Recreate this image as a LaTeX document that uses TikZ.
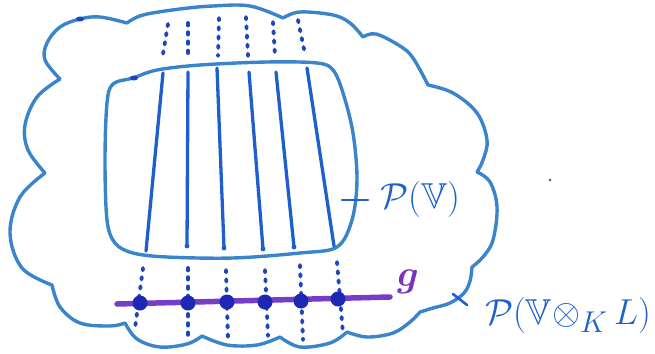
\documentclass[tikz,border=0pt]{standalone}
\usepackage{amsmath}
\usepackage{amssymb}
\definecolor{cloudblue}{RGB}{58,132,204}
\definecolor{penblue}{RGB}{30,95,205}
\definecolor{dotblue}{RGB}{28,70,190}
\definecolor{ptblue}{RGB}{30,40,180}
\definecolor{gpurple}{RGB}{118,62,200}
\definecolor{labpurple}{RGB}{125,50,190}
\tikzset{
  cloudline/.style={draw=cloudblue, line width=3.4pt, line cap=round, line join=round},
  fiber/.style={draw=penblue, line width=3.3pt, line cap=round},
  dotcol/.style={draw=dotblue, line width=3.8pt, line cap=round, dash pattern=on 2.4pt off 6.8pt},
  gline/.style={draw=gpurple, line width=5.5pt, line cap=round},
  gdot/.style={circle, fill=ptblue, minimum size=15pt, inner sep=0pt},
  label/.style={text=penblue, font=\Huge, inner sep=0pt, scale=1.45, transform shape},
  tick/.style={draw=penblue, line width=2.6pt, line cap=round}
}
\begin{document}
\begin{tikzpicture}[x=1pt, y=-1pt]
\useasboundingbox (0,0) rectangle (655,353);

% outer cloud, one bump at a time
\draw[cloudline]
  plot[smooth,tension=0.6] coordinates {(60,79) (45,60) (47,43) (60,27) (80,19) (100,17) (127,23)}
  plot[smooth,tension=0.6] coordinates {(127,23) (143,15) (180,9) (213,6) (250,6) (283,18)}
  plot[smooth,tension=0.6] coordinates {(283,18) (300,12) (333,15) (350,23) (363,37)}
  plot[smooth,tension=0.6] coordinates {(363,37) (376,34) (400,46) (413,58) (428,85)}
  plot[smooth,tension=0.6] coordinates {(428,85) (453,93) (477,113) (487,140) (483,160) (477,172)}
  plot[smooth,tension=0.6] coordinates {(477,172) (490,182) (497,207) (493,240) (483,257) (472,267)}
  plot[smooth,tension=0.6] coordinates {(472,267) (470,281) (464,293) (450,303) (433,308) (420,312)}
  plot[smooth,tension=0.6] coordinates {(420,312) (410,322) (393,333) (367,337) (347,332)}
  plot[smooth,tension=0.6] coordinates {(347,332) (330,343) (300,347) (280,337)}
  plot[smooth,tension=0.6] coordinates {(280,337) (257,345) (227,345) (202,336)}
  plot[smooth,tension=0.6] coordinates {(202,336) (187,344) (160,347) (137,339) (125,323)}
  plot[smooth,tension=0.6] coordinates {(125,323) (110,326) (80,323) (60,307) (52,285)}
  plot[smooth,tension=0.6] coordinates {(52,285) (22,268) (10,233) (20,197) (45,173)}
  plot[smooth,tension=0.6] coordinates {(45,173) (28,150) (25,125) (37,97) (60,79)};
\fill[dotblue] (80,19) ellipse (4pt and 2.5pt);

% inner rounded region P(V)
\draw[cloudline] plot[smooth cycle,tension=0.55] coordinates {
  (133,78) (157,70) (200,65) (267,62) (317,63) (333,70) (343,93) (353,133)
  (357,180) (352,220) (337,247) (300,253) (233,258) (167,257) (133,253)
  (115,243) (107,220) (105,160) (107,103) (113,84)};
\fill[dotblue] (134,78) ellipse (4pt and 2.5pt);

% fibres inside P(V)
\foreach \i/\xt/\yt/\xb/\yb in {1/163/73/146/251, 2/188/72/187/246, 3/217/68/224/248,
                                4/249/72/263/249, 5/276/72/294/247, 6/307/68/334/246} {
  \coordinate (u\i) at (\xt,\yt);
  \coordinate (l\i) at (\xb,\yb);
  \draw[fiber] (u\i) -- (l\i);
}
\foreach \i in {2,...,5} \fill[penblue] (l\i) circle (2.4pt);

% dotted continuations above
\foreach \i/\xt/\yt/\xb/\yb in {1/168/24/162/60, 2/188/23/188/58, 3/219/18/218/56,
                                4/246/17/248/56, 5/273/22/275/56, 6/298/20/305/54} {
  \coordinate (a\i) at (\xt,\yt);
  \coordinate (c\i) at (\xb,\yb);
  \draw[dotcol] (a\i) -- (c\i);
}

% the line g
\coordinate (gl) at (117,304);
\coordinate (gr) at (390,297);
\draw[gline] (gl) -- (gr);

% dotted continuations below, through the points of g
\foreach \i/\xt/\yt/\xb/\yb in {1/143/268/135/328, 2/188/268/188/337, 3/226/270/228/340,
                                4/265/270/268/336, 5/300/265/303/340, 6/337/262/343/334} {
  \coordinate (s\i) at (\xt,\yt);
  \coordinate (e\i) at (\xb,\yb);
  \draw[dotcol] (s\i) -- (e\i);
}
\foreach \i/\x/\y in {1/140/303, 2/188/303, 3/227/302, 4/265/302, 5/301/301, 6/338/299}
  \node[gdot] (p\i) at (\x,\y) {};

% labels
\node[text=labpurple, font=\Huge, inner sep=0pt, scale=1.5, transform shape] (g) at (408,282) {$\boldsymbol{g}$};

\node[label] (pv) at (420,199) {$\mathcal{P}(\mathbb{V})$};
\coordinate (tv1) at (342,200);
\coordinate (tv2) at (368,200);
\draw[tick] (tv1) -- (tv2);

\node[label] (pvl) at (568,315) {$\mathcal{P}(\mathbb{V}{\otimes}_{K}\,L)$};
\coordinate (tw1) at (453,294);
\coordinate (tw2) at (467,305);
\draw[tick] (tw1) -- (tw2);

% stray pen mark
\fill[black!70] (550,180) circle (1.4pt);
\end{tikzpicture}
\end{document}
